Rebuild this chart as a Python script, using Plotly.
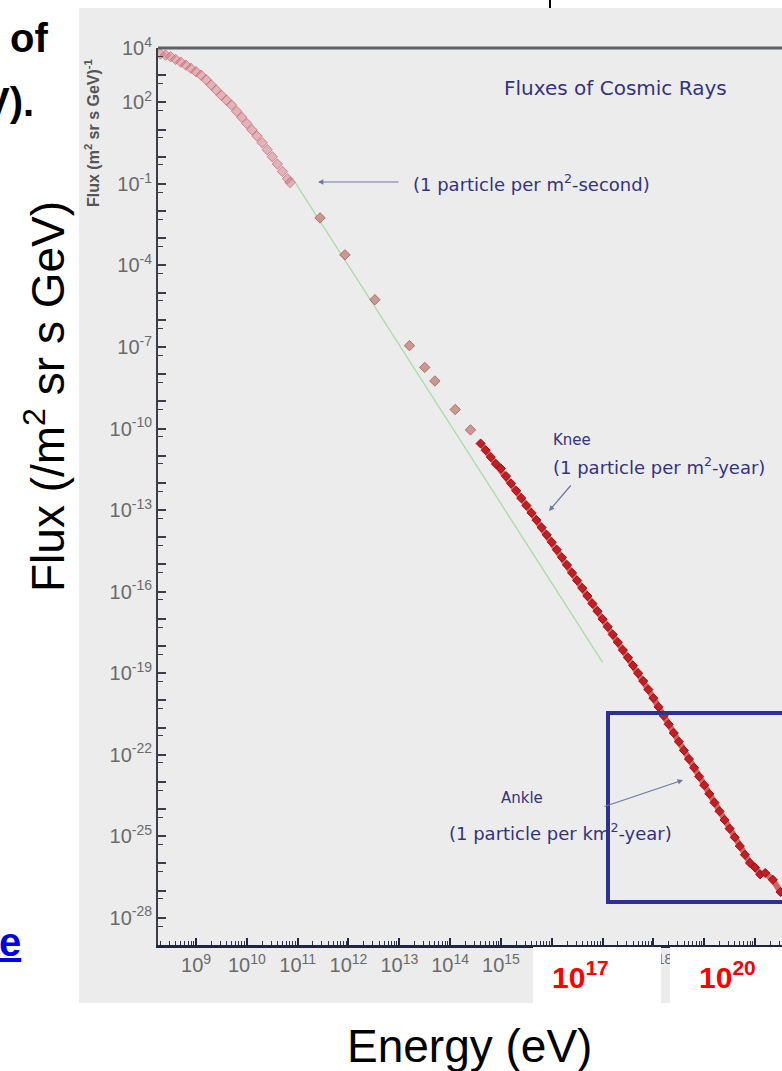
import numpy as np
import plotly.graph_objects as go

# ---- measured cosmic-ray flux (log10 E [eV], log10 flux [m^-2 sr^-1 s^-1 GeV^-1]) ----
low_logE = [8.30, 8.40, 8.50, 8.60, 8.70, 8.80, 8.90, 9.00, 9.10, 9.20, 9.30, 9.40,
            9.50, 9.60, 9.70, 9.80, 9.90, 10.00, 10.10, 10.20, 10.30, 10.40, 10.50,
            10.60, 10.70, 10.80, 10.85]
low_logF = [3.78, 3.74, 3.68, 3.58, 3.48, 3.37, 3.25, 3.13, 3.00, 2.83, 2.64, 2.45,
            2.26, 2.08, 1.90, 1.67, 1.45, 1.22, 0.99, 0.76, 0.52, 0.26, 0.00,
            -0.27, -0.54, -0.81, -0.95]

mid_logE = [11.44, 11.93, 12.52, 13.20, 13.50, 13.70, 14.10, 14.40]
mid_logF = [-2.25, -3.61, -5.26, -6.95, -7.75, -8.25, -9.30, -10.05]

high_logE = [14.6, 14.7, 14.8, 14.9, 15.0, 15.1, 15.2, 15.3, 15.4, 15.5, 15.6, 15.7,
             15.8, 15.9, 16.0, 16.1, 16.2, 16.3, 16.4, 16.5, 16.6, 16.7, 16.8, 16.9,
             17.0, 17.1, 17.2, 17.3, 17.4, 17.5, 17.6, 17.7, 17.8, 17.9, 18.0, 18.1,
             18.2, 18.3, 18.4, 18.5, 18.6, 18.7, 18.8, 18.9, 19.0, 19.1, 19.2, 19.3,
             19.4, 19.5, 19.6, 19.7, 19.8, 19.9, 20.0, 20.1, 20.2, 20.35, 20.5]
high_logF = [-10.55, -10.80, -11.05, -11.30, -11.47, -11.75, -12.02, -12.29, -12.56,
             -12.83, -13.10, -13.37, -13.64, -13.91, -14.18, -14.46, -14.74, -15.02,
             -15.31, -15.59, -15.87, -16.16, -16.44, -16.72, -17.01, -17.29, -17.58,
             -17.86, -18.15, -18.43, -18.72, -19.00, -19.29, -19.60, -19.92, -20.24,
             -20.56, -20.88, -21.20, -21.52, -21.84, -22.16, -22.48, -22.80, -23.12,
             -23.44, -23.76, -24.08, -24.40, -24.72, -25.04, -25.36, -25.68, -25.98,
             -26.15, -26.40, -26.35, -26.60, -27.05]

# power-law guide line
fit_logE = [10.9, 17.0]
fit_logF = [-0.80, -18.6]

x_tick_exps = list(range(9, 21))
x_label_exps = [9, 10, 11, 12, 13, 14, 15, 18]   # 16, 17, 19, 20 sit under the white patches
y_label_exps = [4, 2, -1, -4, -7, -10, -13, -16, -19, -22, -25, -28]

# ---- page geometry (pixels) ----
W, H = 782, 1071
L, R, T, B = 158, 782, 48, 945


def fx(p):
    return (p - L) / (R - L)


def fy(p):
    return (B - p) / (B - T)


def pw(v):
    return 10 ** np.array(v, dtype=float)


fig = go.Figure()

fig.add_trace(go.Scatter(x=pw(fit_logE), y=pw(fit_logF), mode="lines",
                         line=dict(color="#a9dba9", width=1.3), hoverinfo="skip"))
fig.add_trace(go.Scatter(x=pw(low_logE), y=pw(low_logF), mode="markers",
                         marker=dict(symbol="diamond", size=8, color="rgba(214,120,130,0.5)",
                                     line=dict(color="rgba(200,80,90,0.6)", width=1))))
fig.add_trace(go.Scatter(x=pw(mid_logE), y=pw(mid_logF), mode="markers",
                         marker=dict(symbol="diamond", size=8, color="rgba(195,140,130,0.85)",
                                     line=dict(color="rgba(175,85,85,0.8)", width=1))))
fig.add_trace(go.Scatter(x=pw(high_logE), y=pw(high_logF), mode="lines+markers",
                         line=dict(color="rgba(205,35,35,0.7)", width=6),
                         marker=dict(symbol="diamond", size=7, color="#c41e22",
                                     line=dict(color="#9b1518", width=1))))

axis_col = "#1d2742"
tick_font = dict(family="Liberation Sans, Arial", size=20, color="#6a6a6a")
fig.update_xaxes(
    type="log", range=[8.252, 20.53], showgrid=False, zeroline=False,
    showline=True, linecolor=axis_col, linewidth=3, mirror=False,
    ticks="inside", ticklen=7, tickwidth=2, tickcolor=axis_col,
    tickmode="array", tickvals=[10.0 ** k for k in x_tick_exps],
    ticktext=[f"10<sup>{k}</sup>" if k in x_label_exps else "" for k in x_tick_exps],
    tickfont=tick_font,
    minor=dict(ticks="inside", ticklen=4, tickwidth=1, tickcolor="#2a3350",
               tickmode="array",
               tickvals=[m * 10.0 ** k for k in range(8, 21) for m in range(2, 10)]),
)
y_major = list(range(-29, 5))
fig.update_yaxes(
    type="log", range=[-29, 4], showgrid=False, zeroline=False,
    showline=True, linecolor="#3a3d4a", linewidth=2, mirror=False,
    ticks="inside", ticklen=8, tickwidth=2, tickcolor="#3a3d4a",
    tickmode="array", tickvals=[10.0 ** k for k in y_major],
    ticktext=[f"10<sup>{k}</sup>" if k in y_label_exps else "" for k in y_major],
    tickfont=tick_font,
    minor=dict(ticks="inside", ticklen=5, tickwidth=1, tickcolor="#3a3d4a",
               tickmode="array", tickvals=[5 * 10.0 ** k for k in range(-30, 4)]),
)

shapes = [
    # grey panel behind the chart
    dict(type="rect", xref="paper", yref="paper", x0=fx(79), x1=fx(782),
         y0=fy(1003), y1=fy(8), fillcolor="#ececec", line=dict(width=0), layer="below"),
    # top frame line
    dict(type="line", xref="paper", yref="paper", x0=0, x1=1, y0=1, y1=1,
         line=dict(color="#5b5f66", width=3), layer="above"),
    # white label patches
    dict(type="rect", xref="paper", yref="paper", x0=fx(533), x1=fx(661),
         y0=fy(1003), y1=fy(947), fillcolor="white", line=dict(width=0), layer="above"),
    dict(type="rect", xref="paper", yref="paper", x0=fx(670), x1=fx(790),
         y0=fy(1003), y1=fy(947), fillcolor="white", line=dict(width=0), layer="above"),
    # highlight box around the ankle
    dict(type="rect", xref="paper", yref="paper", x0=fx(608), x1=fx(800),
         y0=fy(902), y1=fy(713), fillcolor="rgba(0,0,0,0)",
         line=dict(color="#2e3192", width=4), layer="above"),
    dict(type="line", xref="paper", yref="paper", x0=fx(550), x1=fx(550),
         y0=fy(0), y1=fy(8), line=dict(color="black", width=2), layer="above"),
]

blue = "#33337f"
af = "DejaVu Sans, Verdana"
sf = "Liberation Sans, Arial"


def note(text, x, y, size, color=blue, xanchor="center", family=af, angle=0):
    return dict(text=text, xref="paper", yref="paper", x=fx(x), y=fy(y),
                xanchor=xanchor, yanchor="middle", showarrow=False, textangle=angle,
                font=dict(family=family, size=size, color=color))


def arrow(hx, hy, tx, ty):
    return dict(text="", xref="paper", yref="paper", x=fx(hx), y=fy(hy),
                ax=tx - hx, ay=ty - hy, showarrow=True, arrowhead=2, arrowsize=0.9,
                arrowwidth=1.2, arrowcolor="#6a78a8")


annotations = [
    note("Fluxes of Cosmic Rays", 615, 88, 20),
    note("(1 particle per m<sup>2</sup>-second)", 411, 183, 18, xanchor="left"),
    arrow(318, 182, 400, 182),
    note("Knee", 551, 440, 15, xanchor="left"),
    note("(1 particle per m<sup>2</sup>-year)", 551, 466, 18, xanchor="left"),
    arrow(549, 511, 572, 484),
    note("Ankle", 522, 798, 15),
    note("(1 particle per km<sup>2</sup>-year)", 447, 832, 18, xanchor="left"),
    arrow(683, 780, 603, 807),
    note("<b>Flux (m<sup>2</sup> sr s GeV)<sup>-1</sup></b>", 92, 133, 16, color="#555555",
         family=sf, angle=-90),
    note("Flux (/m<sup>2</sup> sr s GeV)", 45, 397, 46, color="black", family=sf, angle=-90),
    note("Energy (eV)", 469, 1046, 46, color="black", family=sf),
    note("<b>10<sup>17</sup></b>", 580, 975, 30, color="#ff0000", family=sf),
    note("<b>10<sup>20</sup></b>", 727, 975, 30, color="#ff0000", family=sf),
    note("<b>of</b>", 50, 38, 40, color="black", family=sf, xanchor="right"),
    note("<b>V).</b>", 36, 102, 40, color="black", family=sf, xanchor="right"),
    note("<b><u>e</u></b>", 23, 942, 40, color="#0000ee", family=sf, xanchor="right"),
]

fig.update_layout(
    width=W, height=H, margin=dict(l=L, r=W - R, t=T, b=H - B, pad=0),
    paper_bgcolor="white", plot_bgcolor="rgba(0,0,0,0)", showlegend=False,
    shapes=shapes, annotations=annotations,
)

fig.write_html("out.html")
